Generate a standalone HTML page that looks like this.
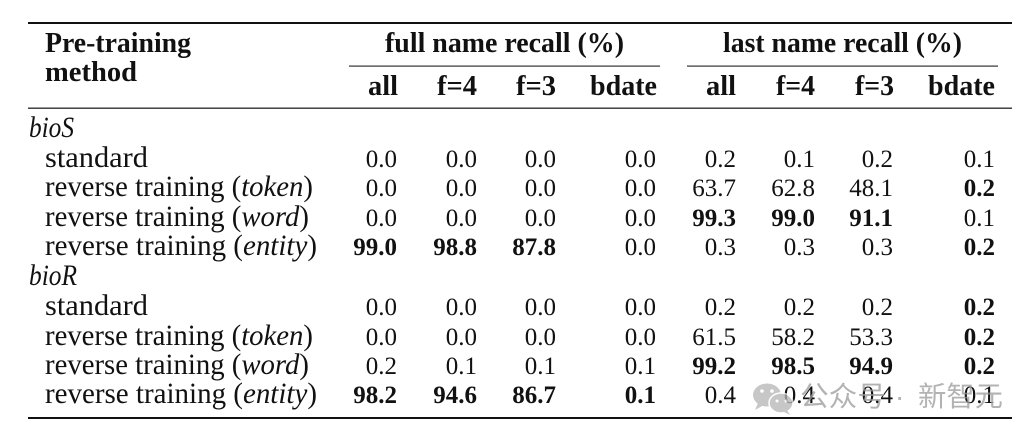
<!DOCTYPE html>
<html>
<head>
<meta charset="utf-8">
<style>
  html, body { margin:0; padding:0; background:#fff; }
  body { width:1036px; height:440px; overflow:hidden; }
  svg { display:block; }
  .lab { font-family:"Liberation Serif", serif; font-size:30px; fill:#111; }
  .hd { font-family:"Liberation Serif", serif; font-size:28px; font-weight:bold; fill:#111; }
  .n { font-family:"Liberation Serif", serif; font-size:25px; fill:#111; text-anchor:end; }
  .b { font-weight:bold; }
  .it { font-style:italic; }
  .wm { font-family:"Liberation Sans", "Noto Sans CJK SC", sans-serif; font-size:28px; fill:#9a9a9a; fill-opacity:0.75; }
</style>
</head>
<body>
<svg width="1036" height="440" viewBox="0 0 1036 440" xmlns="http://www.w3.org/2000/svg">
  <!-- rules -->
  <rect x="28" y="22" width="984" height="2" fill="#111"/>
  <rect x="349" y="65.5" width="311" height="1.2" fill="#333"/>
  <rect x="687" y="65.5" width="311" height="1.2" fill="#333"/>
  <rect x="28" y="107.5" width="984" height="1.4" fill="#333"/>
  <rect x="28" y="417" width="984" height="2" fill="#111"/>

  <!-- header -->
  <text class="hd" x="45" y="52" textLength="146" lengthAdjust="spacingAndGlyphs">Pre-training</text>
  <text class="hd" x="45" y="81" textLength="92" lengthAdjust="spacingAndGlyphs">method</text>
  <text class="hd" x="385" y="52" textLength="239" lengthAdjust="spacingAndGlyphs">full name recall (%)</text>
  <text class="hd" x="723" y="52" textLength="239" lengthAdjust="spacingAndGlyphs">last name recall (%)</text>

  <text class="hd" x="368" y="95" textLength="30" lengthAdjust="spacingAndGlyphs">all</text>
  <text class="hd" x="437" y="95" textLength="40" lengthAdjust="spacingAndGlyphs">f=4</text>
  <text class="hd" x="516" y="95" textLength="40" lengthAdjust="spacingAndGlyphs">f=3</text>
  <text class="hd" x="590" y="95" textLength="67" lengthAdjust="spacingAndGlyphs">bdate</text>
  <text class="hd" x="706" y="95" textLength="30" lengthAdjust="spacingAndGlyphs">all</text>
  <text class="hd" x="776" y="95" textLength="39" lengthAdjust="spacingAndGlyphs">f=4</text>
  <text class="hd" x="855" y="95" textLength="39" lengthAdjust="spacingAndGlyphs">f=3</text>
  <text class="hd" x="928" y="95" textLength="67" lengthAdjust="spacingAndGlyphs">bdate</text>

  <!-- row labels -->
  <text class="lab it" x="29" y="137" textLength="45" lengthAdjust="spacingAndGlyphs">bioS</text>
  <text class="lab" x="45" y="167" textLength="103" lengthAdjust="spacingAndGlyphs">standard</text>
  <text class="lab" x="45" y="196" textLength="268" lengthAdjust="spacingAndGlyphs">reverse training (<tspan class="it">token</tspan>)</text>
  <text class="lab" x="45" y="226" textLength="264" lengthAdjust="spacingAndGlyphs">reverse training (<tspan class="it">word</tspan>)</text>
  <text class="lab" x="45" y="255" textLength="272" lengthAdjust="spacingAndGlyphs">reverse training (<tspan class="it">entity</tspan>)</text>
  <text class="lab it" x="29" y="285" textLength="48" lengthAdjust="spacingAndGlyphs">bioR</text>
  <text class="lab" x="45" y="315" textLength="103" lengthAdjust="spacingAndGlyphs">standard</text>
  <text class="lab" x="45" y="345" textLength="268" lengthAdjust="spacingAndGlyphs">reverse training (<tspan class="it">token</tspan>)</text>
  <text class="lab" x="45" y="374" textLength="264" lengthAdjust="spacingAndGlyphs">reverse training (<tspan class="it">word</tspan>)</text>
  <text class="lab" x="45" y="403" textLength="272" lengthAdjust="spacingAndGlyphs">reverse training (<tspan class="it">entity</tspan>)</text>

  <!-- bioS standard -->
  <text class="n" x="397" y="167">0.0</text><text class="n" x="477" y="167">0.0</text><text class="n" x="556" y="167">0.0</text><text class="n" x="656" y="167">0.0</text>
  <text class="n" x="736" y="167">0.2</text><text class="n" x="815" y="167">0.1</text><text class="n" x="893" y="167">0.2</text><text class="n" x="995" y="167">0.1</text>
  <!-- bioS token -->
  <text class="n" x="397" y="196">0.0</text><text class="n" x="477" y="196">0.0</text><text class="n" x="556" y="196">0.0</text><text class="n" x="656" y="196">0.0</text>
  <text class="n" x="736" y="196">63.7</text><text class="n" x="815" y="196">62.8</text><text class="n" x="893" y="196">48.1</text><text class="n b" x="995" y="196">0.2</text>
  <!-- bioS word -->
  <text class="n" x="397" y="226">0.0</text><text class="n" x="477" y="226">0.0</text><text class="n" x="556" y="226">0.0</text><text class="n" x="656" y="226">0.0</text>
  <text class="n b" x="736" y="226">99.3</text><text class="n b" x="815" y="226">99.0</text><text class="n b" x="893" y="226">91.1</text><text class="n" x="995" y="226">0.1</text>
  <!-- bioS entity -->
  <text class="n b" x="397" y="255">99.0</text><text class="n b" x="477" y="255">98.8</text><text class="n b" x="556" y="255">87.8</text><text class="n" x="656" y="255">0.0</text>
  <text class="n" x="736" y="255">0.3</text><text class="n" x="815" y="255">0.3</text><text class="n" x="893" y="255">0.3</text><text class="n b" x="995" y="255">0.2</text>

  <!-- bioR standard -->
  <text class="n" x="397" y="315">0.0</text><text class="n" x="477" y="315">0.0</text><text class="n" x="556" y="315">0.0</text><text class="n" x="656" y="315">0.0</text>
  <text class="n" x="736" y="315">0.2</text><text class="n" x="815" y="315">0.2</text><text class="n" x="893" y="315">0.2</text><text class="n b" x="995" y="315">0.2</text>
  <!-- bioR token -->
  <text class="n" x="397" y="345">0.0</text><text class="n" x="477" y="345">0.0</text><text class="n" x="556" y="345">0.0</text><text class="n" x="656" y="345">0.0</text>
  <text class="n" x="736" y="345">61.5</text><text class="n" x="815" y="345">58.2</text><text class="n" x="893" y="345">53.3</text><text class="n b" x="995" y="345">0.2</text>
  <!-- bioR word -->
  <text class="n" x="397" y="374">0.2</text><text class="n" x="477" y="374">0.1</text><text class="n" x="556" y="374">0.1</text><text class="n" x="656" y="374">0.1</text>
  <text class="n b" x="736" y="374">99.2</text><text class="n b" x="815" y="374">98.5</text><text class="n b" x="893" y="374">94.9</text><text class="n b" x="995" y="374">0.2</text>
  <!-- bioR entity -->
  <text class="n b" x="397" y="403">98.2</text><text class="n b" x="477" y="403">94.6</text><text class="n b" x="556" y="403">86.7</text><text class="n b" x="656" y="403">0.1</text>
  <text class="n" x="736" y="403">0.4</text><text class="n" x="815" y="403">0.4</text><text class="n" x="893" y="403">0.4</text><text class="n" x="995" y="403">0.1</text>

  <!-- watermark -->
  <g opacity="0.75">
    <ellipse cx="767" cy="395" rx="14" ry="11.5" fill="#b5b5b5"/>
    <path d="M758 403 L755 410 L764 405 Z" fill="#b5b5b5"/>
    <circle cx="762" cy="391" r="1.8" fill="#fff"/>
    <circle cx="772" cy="391" r="1.8" fill="#fff"/>
    <ellipse cx="781" cy="403" rx="12" ry="10" fill="#b5b5b5" stroke="#fff" stroke-width="1.5"/>
    <path d="M787 410 L790 415 L782 411 Z" fill="#b5b5b5"/>
    <circle cx="777" cy="401" r="1.5" fill="#fff"/>
    <circle cx="786" cy="401" r="1.5" fill="#fff"/>
  </g>
  <text class="wm" x="800" y="406" textLength="86" lengthAdjust="spacingAndGlyphs">公众号</text>
  <text class="wm" x="895" y="406">·</text>
  <text class="wm" x="918" y="406" textLength="85" lengthAdjust="spacingAndGlyphs">新智元</text>
</svg>
</body>
</html>
